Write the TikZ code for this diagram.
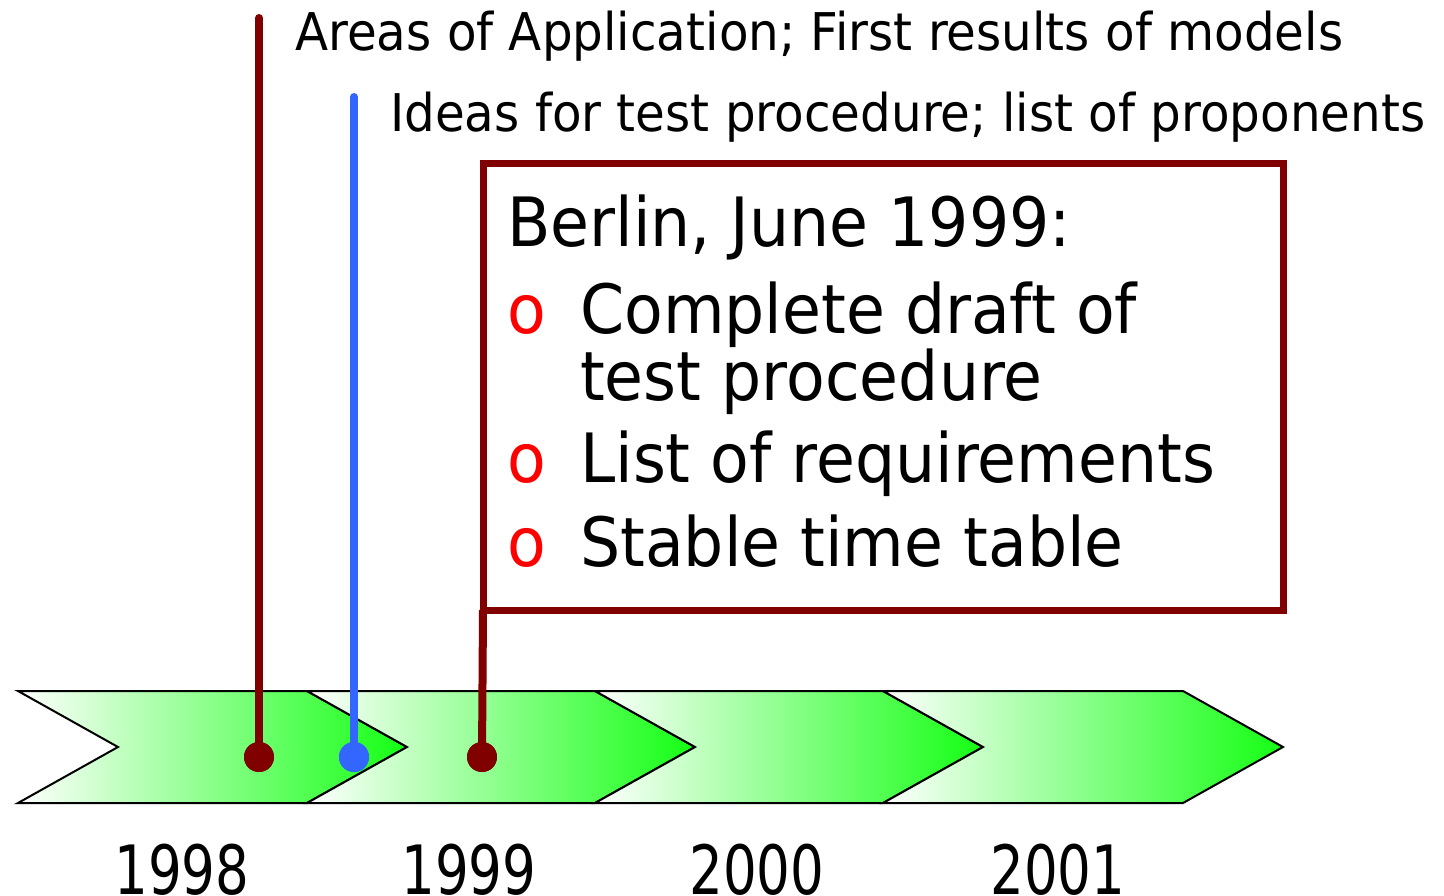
\documentclass[tikz,border=0pt]{standalone}
\usepackage{fontspec}
\setmainfont{DejaVu Sans}[FakeStretch=0.93]
\newfontfamily\yearfont{DejaVu Sans}[FakeStretch=0.78]
\definecolor{darkred}{RGB}{128,0,0}
\definecolor{pinblue}{RGB}{51,102,255}
\definecolor{tipgreen}{RGB}{20,255,20}
\tikzset{
  chev/.style={draw=black, line width=2pt, line join=miter, left color=white, right color=tipgreen},
  pin/.style={line width=8pt, line cap=round},
  dot/.style={circle, fill=#1, minimum size=30pt, inner sep=0pt, outer sep=0pt},
  toptext/.style={anchor=base west, inner sep=0pt, font=\fontsize{52}{60}\selectfont},
  boxtext/.style={anchor=base west, inner sep=0pt, font=\fontsize{68}{80}\selectfont},
  bullet/.style={boxtext, text=red},
  year/.style={anchor=base, inner sep=0pt, font=\yearfont\fontsize{68}{80}\selectfont},
  infobox/.style={draw=darkred, line width=7pt, fill=white, minimum width=800pt, minimum height=447pt, inner sep=0pt, outer sep=0pt, anchor=north west}
}
\begin{document}
\begin{tikzpicture}[x=1pt,y=-1pt]
\useasboundingbox (0,0) rectangle (1444,895);
% chevrons
\foreach \L/\R in {18/307, 307/595, 595/883, 883/1183}{
  \path[chev] (\L,691) -- (\R,691) -- (\R+100,747) -- (\R,803) -- (\L,803) -- (\L+100,747) -- cycle;
}
% years
\node[year] (y98) at (182,894) {1998};
\node[year] (y99) at (469,894) {1999};
\node[year] (y00) at (757,894) {2000};
\node[year] (y01) at (1058,894) {2001};
% pins
\coordinate (top1) at (259,18);
\coordinate (top2) at (354,97);
\node[dot=darkred] (d1) at (259,757) {};
\node[dot=pinblue] (d2) at (354,757) {};
\node[dot=darkred] (d3) at (482,757) {};
\draw[pin, darkred] (top1) -- (d1.center);
\draw[pin, pinblue] (top2) -- (d2.center);
% box
\node[infobox] (box) at (483,163) {};
\draw[pin, darkred, line cap=butt] (box.south west) -- (d3.center);
\node[dot=darkred] at (d1.center) {};
\node[dot=pinblue] at (d2.center) {};
\node[dot=darkred] at (d3.center) {};
% texts
\node[toptext] (t1) at (295,50) {Areas of Application; First results of models};
\node[toptext] (t2) at (390,131) {Ideas for test procedure; list of proponents};
\node[boxtext] (b0) at (507,246) {Berlin, June 1999:};
\node[bullet] (o1) at (507,333) {o};
\node[boxtext] (b1) at (580,333) {Complete draft of};
\node[boxtext] (b2) at (580,400) {test procedure};
\node[bullet] (o2) at (507,482) {o};
\node[boxtext] (b3) at (580,482) {List of requirements};
\node[bullet] (o3) at (507,566) {o};
\node[boxtext] (b4) at (580,566) {Stable time table};
\end{tikzpicture}
\end{document}
